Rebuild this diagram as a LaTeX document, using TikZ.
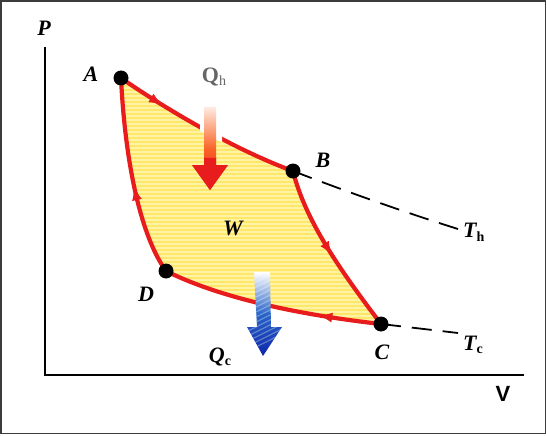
\documentclass[tikz,border=0pt]{standalone}
\usepackage{fontspec}
\setmainfont{Liberation Serif}
\setsansfont{Liberation Sans}
\usetikzlibrary{decorations.markings,arrows.meta}
\definecolor{cyred}{RGB}{232,28,28}
\definecolor{cyfill}{RGB}{255,243,165}
\definecolor{cystripe}{RGB}{255,232,105}
\definecolor{cyblue}{RGB}{15,40,170}
\definecolor{cyframe}{RGB}{60,60,60}
\tikzset{
  lbl/.style={font=\fontsize{22}{24}\selectfont\bfseries\itshape, inner sep=0pt},
  dot/.style={circle, fill=black, minimum size=15pt, inner sep=0pt},
  redline/.style={draw=cyred, line width=4.2pt},
  midarrow/.style={postaction={decorate}, decoration={markings,
     mark=at position #1 with {\arrow[line width=1pt]{Latex[length=13pt,width=10pt]}}}},
  dashline/.style={draw=black, line width=1.8pt, dash pattern=on 20pt off 11pt},
}
\begin{document}
\begin{tikzpicture}[x=1pt,y=-1pt]
\useasboundingbox (0,0) rectangle (547,436);
\draw[cyframe, line width=1.5pt] (1,1) rectangle (545.5,433.5);
% axes
\coordinate (ytop) at (45,47);
\coordinate (orig) at (45,375);
\coordinate (xend) at (524,375);
\draw[line width=2.2pt] (ytop) -- (orig) -- (xend);
\node[lbl] (P) at (44,28) {P};
\node[font=\fontsize{22}{24}\selectfont\sffamily\bfseries, inner sep=0pt] (V) at (503,394) {V};
% state points
\coordinate (A) at (121,78);
\coordinate (B) at (293,171);
\coordinate (C) at (381,324);
\coordinate (D) at (166,271);
% fill
\begin{scope}
\clip (A) .. controls (170,112) and (240,152) .. (B)
      .. controls (305,220) and (340,270) .. (C)
      .. controls (300,315) and (220,298) .. (D)
      .. controls (140,235) and (125,160) .. (A) -- cycle;
\fill[cyfill] (100,70) rectangle (400,340);
\foreach \yy in {82,86,...,330} {
  \draw[cystripe, line width=1.5pt] (100,\yy) -- (400,\yy);
}
\end{scope}
% dashed isotherm extensions
\coordinate (Thend) at (458,229);
\coordinate (Tcend) at (458,333);
\draw[dashline] (B) .. controls (350,193) and (410,214) .. (Thend);
\draw[dashline] (C) -- (Tcend);
% cycle
\draw[redline, midarrow=0.25] (A) .. controls (170,112) and (240,152) .. (B);
\draw[redline, midarrow=0.52] (B) .. controls (305,220) and (340,270) .. (C);
\draw[redline, midarrow=0.28] (C) .. controls (300,315) and (220,298) .. (D);
\draw[redline, midarrow=0.45] (D) .. controls (140,235) and (125,160) .. (A);
% gap in A-B where the heat arrow crosses
\begin{scope}
\clip (200,100) rectangle (222,155);
\draw[white, line width=6pt] (A) .. controls (170,112) and (240,152) .. (B);
\end{scope}
% Qh arrow
\shade[top color={rgb,255:red,255;green,235;blue,225}, bottom color=cyred, middle color={rgb,255:red,250;green,100;blue,40}]
  (204,107) -- (216,107) -- (216,165) -- (228,165) -- (210,190) -- (192,165) -- (204,165) -- cycle;
\fill[cyred] (204,158) -- (216,158) -- (216,165) -- (228,165) -- (210,190) -- (192,165) -- (204,165) -- cycle;
% Qc arrow
\begin{scope}
\clip (254,272) -- (270,272) -- (271,327) -- (282,327) -- (263,356) -- (247,327) -- (257,327) -- cycle;
\shade[top color=white, bottom color=cyblue, middle color={rgb,255:red,40;green,100;blue,200}] (240,272) rectangle (290,356);
\foreach \k in {0,5,...,90} {
  \draw[white, opacity=0.3, line width=1.2pt] (240,285+\k-20) -- (290,285+\k-45);
}
\end{scope}
% dots
\node[dot] (dA) at (A) {};
\node[dot] (dB) at (B) {};
\node[dot] (dC) at (C) {};
\node[dot] (dD) at (D) {};
% labels
\node[lbl] (lA) at (91,74) {A};
\node[lbl] (lB) at (323,160) {B};
\node[lbl] (lC) at (382,352) {C};
\node[lbl] (lD) at (146,294) {D};
\node[lbl] (W) at (233,228) {W};
\node[font=\fontsize{22}{24}\selectfont\bfseries, text=black!60, inner sep=0pt] (Qh) at (214,77) {Q\raisebox{-3pt}{\fontsize{14}{14}\selectfont\mdseries h}};
\node[lbl] (Qc) at (220,357) {Q\raisebox{-3pt}{\fontsize{14}{14}\selectfont\upshape c}};
\node[lbl, anchor=west] (Th) at (463,232) {T\raisebox{-4pt}{\fontsize{14}{14}\selectfont\upshape h}};
\node[lbl, anchor=west] (Tc) at (463,345) {T\raisebox{-3pt}{\fontsize{14}{14}\selectfont\upshape c}};
\end{tikzpicture}
\end{document}
